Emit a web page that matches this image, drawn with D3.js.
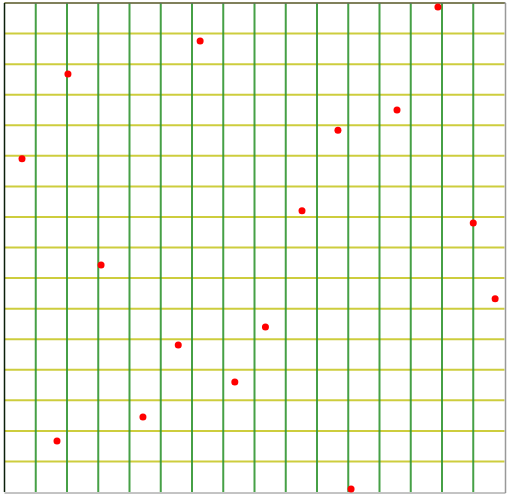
<!DOCTYPE html>
<html><head><meta charset="utf-8">
<script src="https://cdn.jsdelivr.net/npm/d3@7"></script>
<style>html,body{margin:0;padding:0;background:#fff;}svg{display:block;}</style>
</head><body>
<svg id="chart" width="510" height="496"></svg>
<script>
const xValues = [0.56, 1.68, 2.03, 3.09, 4.43, 5.56, 6.26, 7.37, 8.35, 9.52, 10.67, 11.09, 12.56, 13.87, 15.0, 15.7];
const yValues = [10.9, 1.67, 13.68, 7.43, 2.45, 4.81, 14.76, 3.6, 5.4, 9.2, 11.84, 0.1, 12.5, 15.87, 8.8, 6.32];
const gridTicks = d3.range(0, 17);

const svg = d3.select("#chart");
const pLeft = 4.5, pRight = 504.5, pTop = 3, pBottom = 492;
const x = d3.scaleLinear().domain([0, 16]).range([pLeft, pRight]);
const y = d3.scaleLinear().domain([0, 16]).range([pBottom, pTop]);

svg.append("g").selectAll("line").data(gridTicks.slice(1)).join("line")
  .attr("x1", pLeft).attr("x2", pRight)
  .attr("y1", d => y(d)).attr("y2", d => y(d))
  .attr("stroke", "rgb(200,200,40)").attr("stroke-width", 2).attr("stroke-opacity", 0.9);

svg.append("g").selectAll("line").data(gridTicks.slice(1, 16)).join("line")
  .attr("x1", d => x(d)).attr("x2", d => x(d))
  .attr("y1", pTop).attr("y2", pBottom)
  .attr("stroke", "rgb(50,150,50)").attr("stroke-width", 2).attr("stroke-opacity", 0.9);

svg.append("line").attr("x1", pLeft).attr("x2", pRight + 1).attr("y1", pTop).attr("y2", pTop)
  .attr("stroke", "#666").attr("stroke-width", 1.5);
svg.append("line").attr("x1", pRight + 1).attr("x2", pRight + 1).attr("y1", pTop).attr("y2", pBottom + 1)
  .attr("stroke", "#999").attr("stroke-width", 1.5);
svg.append("line").attr("x1", pLeft).attr("x2", pRight + 1).attr("y1", pBottom + 1).attr("y2", pBottom + 1)
  .attr("stroke", "#888").attr("stroke-width", 1);
svg.append("line").attr("x1", pLeft).attr("x2", pLeft).attr("y1", pTop).attr("y2", pBottom)
  .attr("stroke", "#0a1f0a").attr("stroke-width", 1.5);

svg.append("g").selectAll("circle").data(xValues.map((v, i) => [v, yValues[i]])).join("circle")
  .attr("cx", d => x(d[0])).attr("cy", d => y(d[1])).attr("r", 3.5)
  .attr("fill", "red");
</script>
</body></html>
